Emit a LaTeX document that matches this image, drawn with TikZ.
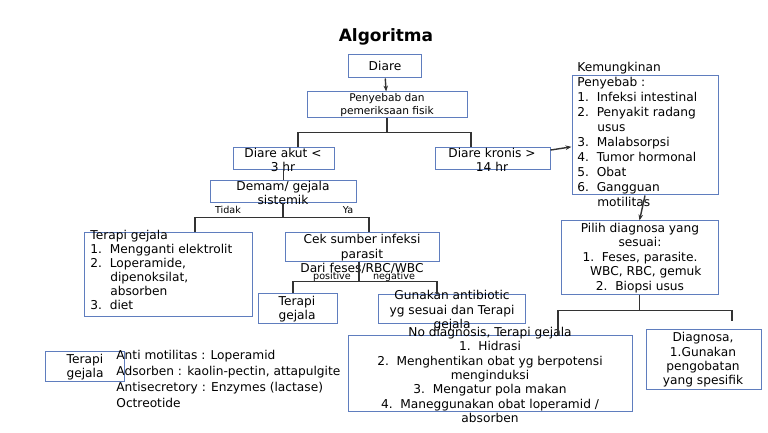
\documentclass[tikz,border=0pt]{standalone}
\usepackage{fontspec}
\setmainfont{DejaVu Sans}
\usetikzlibrary{fit,arrows.meta}
\definecolor{boxblue}{RGB}{95,125,190}
\begin{document}
\begin{tikzpicture}[x=0.5pt,y=-0.5pt,
	box/.style={draw=boxblue,line width=0.5pt,inner sep=0pt},
	txt/.style={font=\fontsize{6.1}{7.2}\selectfont,inner sep=0pt,align=center},
	lst/.style={font=\fontsize{6.1}{7.5}\selectfont,inner sep=0pt,align=left,anchor=north west},
	lbl/.style={font=\fontsize{4.8}{5.5}\selectfont,inner sep=0pt},
	con/.style={line width=0.7pt,black!80}]
	\useasboundingbox (0,0) rectangle (768,433);
	\node[font=\fontsize{8.5}{10}\selectfont\bfseries] (judul) at (386,37) {Algoritma};
	% boxes
	\node[box,fit={(348,55) (421,78)}] (diare) {};
	\node[box,fit={(307,92) (467,118)}] (penyebab) {};
	\node[box,fit={(233,148) (334,170)}] (akut) {};
	\node[box,fit={(435,148) (550,170)}] (kronis) {};
	\node[box,fit={(572,76) (718,195)}] (mungkin) {};
	\node[box,fit={(210,181) (356,203)}] (demam) {};
	\node[box,fit={(84,233) (252,317)}] (gejala) {};
	\node[box,fit={(285,233) (439,262)}] (cek) {};
	\node[box,fit={(258,294) (337,324)}] (terapi) {};
	\node[box,fit={(378,295) (525,324)}] (antibiotic) {};
	\node[box,fit={(561,221) (718,295)}] (pilih) {};
	\node[box,fit={(348,336) (632,412)}] (nodiag) {};
	\node[box,fit={(646,330) (761,390)}] (diagnosa) {};
	\node[box,fit={(45,352) (124,382)}] (terapib) {};
	% texts
	\node[txt] at (385,66) {Diare};
	\node[txt,font=\fontsize{5.3}{6.6}\selectfont] at (387,105) {Penyebab dan\\pemeriksaan fisik};
	\node[txt] at (283,160) {Diare akut <\\3 hr};
	\node[txt] at (492,160) {Diare kronis >\\14 hr};
	\node[lst] at (577,62) {Kemungkinan\\Penyebab :\\1.\ \ Infeksi intestinal\\2.\ \ Penyakit radang\\\hspace*{3.5mm}usus\\3.\ \ Malabsorpsi\\4.\ \ Tumor hormonal\\5.\ \ Obat\\6.\ \ Gangguan\\\hspace*{3.5mm}motilitas};
	\node[txt] at (283,193) {Demam/ gejala\\sistemik};
	\node[lbl] at (228,210) {Tidak};
	\node[lbl] at (348,210) {Ya};
	\node[lst,font=\fontsize{6.1}{7}\selectfont] at (90,230) {Terapi gejala\\1.\ \ Mengganti elektrolit\\2.\ \ Loperamide,\\\hspace*{3.5mm}dipenoksilat,\\\hspace*{3.5mm}absorben\\3.\ \ diet};
	\node[txt] at (362,254) {Cek sumber infeksi\\parasit\\Dari feses/RBC/WBC};
	\node[lbl] at (332,277) {positive};
	\node[lbl] at (394,277) {negative};
	\node[txt] at (297,309) {Terapi\\gejala};
	\node[txt] at (452,311) {Gunakan antibiotic\\yg sesuai dan Terapi\\gejala};
	\node[txt] at (640,258) {Pilih diagnosa yang\\sesuai:\\1.\ \ Feses, parasite.\\\ \ \ WBC, RBC, gemuk\\2.\ \ Biopsi usus};
	\node[txt] at (490,375) {No diagnosis, Terapi gejala\\1.\ \ Hidrasi\\2.\ \ Menghentikan obat yg berpotensi\\menginduksi\\3.\ \ Mengatur pola makan\\4.\ \ Maneggunakan obat loperamid /\\absorben};
	\node[txt] at (703,360) {Diagnosa,\\1.Gunakan\\pengobatan\\yang spesifik};
	\node[txt] at (85,367) {Terapi\\gejala};
	\node[lst,font=\fontsize{6.1}{8}\selectfont] at (116,350) {Anti motilitas : Loperamid\\Adsorben : kaolin-pectin, attapulgite\\Antisecretory : Enzymes (lactase)\\Octreotide};
	% connectors
	\draw[con,-{Stealth[length=3pt]}] (diare) -- (penyebab);
	\draw[con] (penyebab.south) -- ++(0,14) -| (akut.north -| 298,0);
	\draw[con] (penyebab.south) ++(0,14) -| (kronis.north -| 471,0);
	\draw[con,-{Stealth[length=3pt]}] (kronis) -- (mungkin);
	\draw[con] (akut.south) -- (demam.north -| akut.south);
	\draw[con,-{Stealth[length=3pt]}] (mungkin.south) -- (pilih.north);
	\draw[con] (demam.south) -- ++(0,14) -| (gejala.north -| 195,0);
	\draw[con] (demam.south) ++(0,14) -| (cek.north -| 369,0);
	\draw[con] (cek.south -| 359,0) -- ++(0,19) -| (terapi.north -| 293,0);
	\draw[con] (cek.south -| 359,0) ++(0,19) -| (antibiotic.north -| 437,0);
	\draw[con] (pilih.south) -- ++(0,15) -| (nodiag.north -| 558,0);
	\draw[con] (pilih.south) ++(0,15) -| ([yshift=4pt]diagnosa.north -| 732,0);
\end{tikzpicture}
\end{document}
